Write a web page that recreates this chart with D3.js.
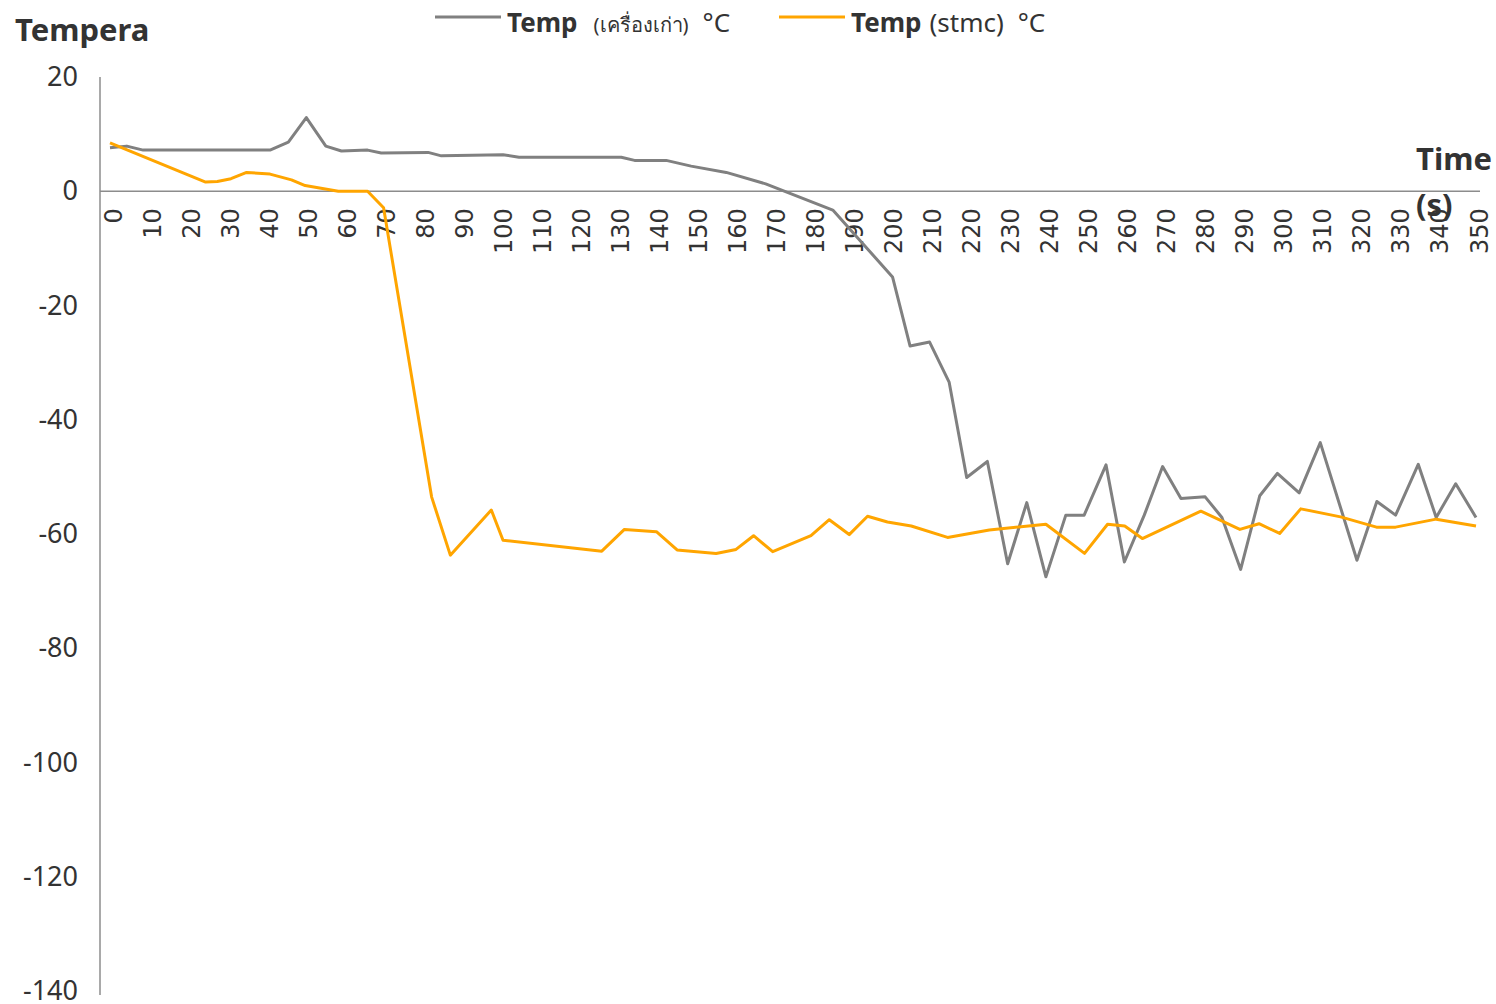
<!DOCTYPE html>
<html>
<head>
<meta charset="utf-8">
<script src="https://cdn.jsdelivr.net/npm/d3@7"></script>
<style>
  body { margin: 0; background: #fff; }
  text { font-family: "Noto Sans", "Open Sans", sans-serif; fill: #333; }
</style>
</head>
<body>
<div id="svg-area"></div>
<script>
var svgWidth = 1496;
var svgHeight = 1004;

// time (s) of each reading, old machine
var oldTime = [0, 4.3, 8.5, 41, 45.7, 50.3, 55.3, 59.3, 66, 69.5, 81.5, 84.9, 100.7, 104.8, 131, 134.4, 142.5, 148.9, 157.9, 168, 185.2, 200.5,
  205, 210, 215, 219.5, 224.8, 230, 234.9, 239.8, 244.9, 249.6, 255.2, 259.9, 265, 269.7, 274.4, 280.6, 284.9, 289.7, 294.6, 299.1, 304.7,
  310.1, 319.5, 324.6, 329.4, 335.2, 339.8, 344.8, 350];
var oldTemp = [7.6, 7.9, 7.2, 7.2, 8.6, 12.9, 7.9, 7.05, 7.2, 6.7, 6.8, 6.2, 6.4, 5.95, 5.95, 5.4, 5.4, 4.4, 3.3, 1.3, -3.3, -15,
  -27.1, -26.4, -33.4, -50.1, -47.3, -65.2, -54.5, -67.5, -56.7, -56.7, -47.9, -64.9, -56.7, -48.2, -53.8, -53.5, -57.1, -66.2, -53.3, -49.4, -52.8,
  -44, -64.6, -54.3, -56.7, -47.8, -57.1, -51.2, -57.1];

// time (s) of each reading, stmc
var stmcTime = [0, 24.5, 27.5, 31, 35, 41, 46.5, 50, 58.5, 66, 70.1, 82.4, 87.2, 97.7, 100.7, 126, 131.8, 140, 145.3, 155.3, 160.4, 164.9,
  169.8, 179.6, 184.3, 189.4, 194.1, 199.2, 205.3, 214.6, 225.3, 239.8, 249.7, 255.6, 260, 264.5, 279.5, 289.5, 294.4, 299.7, 305.1,
  315.3, 324.5, 329.4, 339.8, 350];
var stmcTemp = [8.45, 1.6, 1.7, 2.2, 3.3, 3.0, 2.0, 1.0, 0, 0, -2.9, -53.5, -63.7, -55.8, -61.1, -63, -59.2, -59.6, -62.8, -63.4, -62.7, -60.3,
  -63.1, -60.3, -57.5, -60.1, -56.9, -57.9, -58.6, -60.6, -59.3, -58.3, -63.4, -58.3, -58.6, -60.8, -56, -59.2, -58.2, -59.9, -55.6,
  -57, -58.8, -58.8, -57.4, -58.6];

var xTicks = [0, 10, 20, 30, 40, 50, 60, 70, 80, 90, 100, 110, 120, 130, 140, 150, 160, 170, 180, 190, 200,
  210, 220, 230, 240, 250, 260, 270, 280, 290, 300, 310, 320, 330, 340, 350];
var yTicks = [20, 0, -20, -40, -60, -80, -100, -120, -140];

var svg = d3.select("#svg-area")
  .append("svg")
  .attr("width", svgWidth)
  .attr("height", svgHeight);

var x = d3.scaleLinear().domain([0, 350]).range([110, 1476]);
var y = d3.scaleLinear().domain([-140, 20]).range([991, 77]);

// y axis
var yAxis = svg.append("g")
  .attr("transform", "translate(100,0)")
  .call(d3.axisLeft(y).tickValues(yTicks).tickSize(0).tickPadding(22)
    .tickFormat(function(d) { return String(d); }));
yAxis.select(".domain").attr("stroke", "#8c8c8c").attr("stroke-width", 1.5)
  .attr("d", "M0," + y(20) + "V" + (y(-140) + 4));
yAxis.selectAll("text")
  .style("font-family", '"Noto Sans", sans-serif')
  .style("font-size", "27px")
  .attr("fill", "#333");

// x axis at zero
var xAxis = svg.append("g")
  .attr("transform", "translate(0," + y(0) + ")")
  .call(d3.axisBottom(x).tickValues(xTicks).tickSize(0)
    .tickFormat(function(d) { return String(d); }));
xAxis.select(".domain").attr("stroke", "#8c8c8c").attr("stroke-width", 1.5)
  .attr("d", "M100,0H1480");
xAxis.selectAll("text")
  .style("font-family", '"DejaVu Sans", sans-serif')
  .style("font-size", "24px")
  .attr("fill", "#333")
  .attr("text-anchor", "end")
  .attr("dy", null)
  .attr("y", 0)
  .attr("x", 0)
  .attr("transform", "translate(3,17) rotate(-90)")
  .attr("dominant-baseline", "central");

var line = d3.line()
  .x(function(d) { return x(d[0]); })
  .y(function(d) { return y(d[1]); });

svg.append("path")
  .datum(d3.zip(oldTime, oldTemp))
  .attr("fill", "none")
  .attr("stroke", "#808080")
  .attr("stroke-width", 3)
  .attr("stroke-linejoin", "round")
  .attr("d", line);

svg.append("path")
  .datum(d3.zip(stmcTime, stmcTemp))
  .attr("fill", "none")
  .attr("stroke", "#FFA500")
  .attr("stroke-width", 3)
  .attr("stroke-linejoin", "round")
  .attr("d", line);

// axis titles
svg.append("text")
  .attr("x", 15).attr("y", 41)
  .style("font-size", "31px").style("font-weight", "bold")
  .text("Tempera");

svg.append("text")
  .attr("x", 1416).attr("y", 170)
  .style("font-size", "31px").style("font-weight", "bold")
  .text("Time");
svg.append("text")
  .attr("x", 1416).attr("y", 216)
  .style("font-size", "31px").style("font-weight", "bold")
  .text("(s)");

// legend
var legend = [
  { x: 435, color: "#808080", label: "(เครื่องเก่า)", small: true },
  { x: 779, color: "#FFA500", label: "(stmc)", small: false }
];
legend.forEach(function(l) {
  svg.append("line")
    .attr("x1", l.x).attr("x2", l.x + 66)
    .attr("y1", 17).attr("y2", 17)
    .attr("stroke", l.color).attr("stroke-width", 3);
  var t = svg.append("text")
    .attr("x", l.x + 72).attr("y", 32)
    .style("font-size", "26px");
  t.append("tspan").style("font-weight", "bold").text("Temp");
  t.append("tspan").attr("dx", l.small ? 16 : 8)
    .style("font-size", l.small ? "20px" : "26px").text(l.label);
  t.append("tspan").attr("dx", 14).text("°C");
});
</script>
</body>
</html>
